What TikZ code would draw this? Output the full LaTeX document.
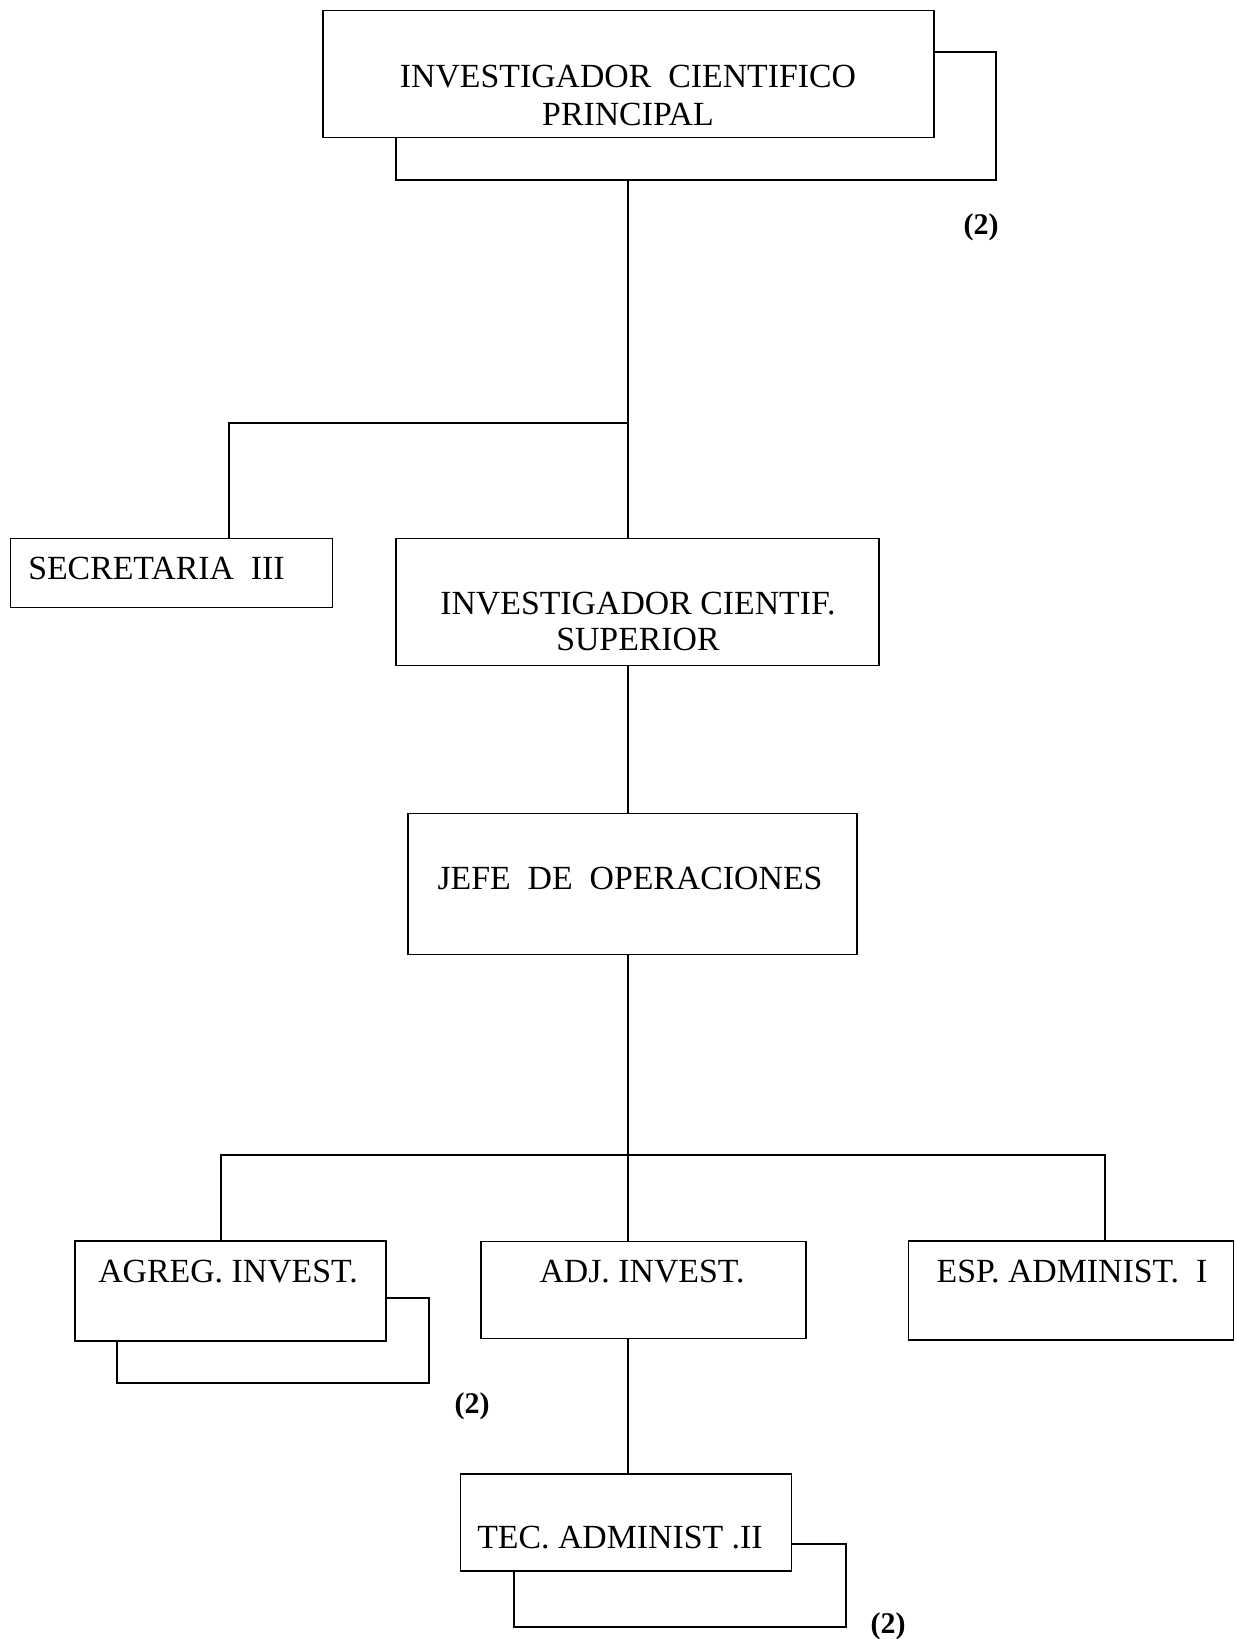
\documentclass[tikz,border=0pt]{standalone}
\usepackage{fontspec}
\setmainfont{Liberation Serif}
\usetikzlibrary{positioning,calc}

\tikzset{
  caja/.style={draw, line width=0.7pt, fill=white, inner sep=0pt},
  rotulo/.style={font=\fontsize{16.9}{18.3}\selectfont, align=center, inner sep=0pt},
  nota/.style={font=\fontsize{15}{17}\selectfont\bfseries, inner sep=0pt},
  sombra/.style={line width=0.7pt}
}

\begin{document}
\begin{tikzpicture}[x=0.5pt,y=-0.5pt]
	\useasboundingbox[fill=white] (0,0) rectangle (1237,1639);
	\coordinate (eje) at (628,0);
	% cajas
	\draw[sombra] (934,52) -- (996,52) -- (996,180) -- (396,180) -- (396,137);
	\node[caja, minimum width=305.5pt, minimum height=63.5pt] (icp) at (628.5,74) {};
	\node[caja, minimum width=161pt, minimum height=34.5pt] (sec) at (171.5,573) {};
	\node[caja, minimum width=241.5pt, minimum height=63.5pt] (ics) at (637.5,602) {};
	\node[caja, minimum width=224.5pt, minimum height=70.5pt] (jefe) at (632.5,884) {};
	\draw[sombra] (386,1298) -- (429,1298) -- (429,1383) -- (117,1383) -- (117,1340);
	\node[caja, minimum width=155.5pt, minimum height=50pt] (agreg) at (230.5,1291) {};
	\node[caja, minimum width=162.5pt, minimum height=48.5pt] (adj) at (643.5,1290) {};
	\node[caja, minimum width=162.5pt, minimum height=49.5pt] (esp) at (1071,1290.5) {};
	\draw[sombra] (792,1544) -- (846,1544) -- (846,1627) -- (514,1627) -- (514,1571);
	\node[caja, minimum width=165.5pt, minimum height=48.5pt] (tec) at (626,1522.5) {};
	% textos
	\node[rotulo] (icpt) at (628,95.5) {INVESTIGADOR\ \ CIENTIFICO\\[0.5pt]PRINCIPAL};
	\node[rotulo] (sect) at (156.5,568) {SECRETARIA\ \ III};
	\node[rotulo] (icst) at (638,621.5) {INVESTIGADOR CIENTIF.\\SUPERIOR};
	\node[rotulo] (jefet) at (630,878) {JEFE\ \ DE\ \ OPERACIONES};
	\node[rotulo] (agregt) at (228,1272) {AGREG. INVEST.};
	\node[rotulo] (adjt) at (642,1272) {ADJ. INVEST.};
	\node[rotulo] (espt) at (1072,1272) {ESP. ADMINIST.\ \ I};
	\node[rotulo] (tect) at (620,1538) {TEC. ADMINIST .II};
	\node[nota] (n1) at (981,227) {(2)};
	\node[nota] (n2) at (472,1406) {(2)};
	\node[nota] (n3) at (888,1626) {(2)};
	% conectores
	\coordinate (icps) at (628,180);
	\coordinate (r1) at (628,423);
	\coordinate (r2) at (628,1155);
	\draw[sombra] (icps) -- (eje |- ics.north);
	\draw[sombra] (r1) -| ([xshift=28.75pt]sec.north);
	\draw[sombra] (eje |- ics.south) -- (eje |- jefe.north);
	\draw[sombra] (eje |- jefe.south) -- (eje |- adj.north);
	\draw[sombra] ([xshift=-4.75pt]agreg.north) |- (r2) -| ([xshift=17pt]esp.north);
	\draw[sombra] (eje |- adj.south) -- (eje |- tec.north);
\end{tikzpicture}
\end{document}
